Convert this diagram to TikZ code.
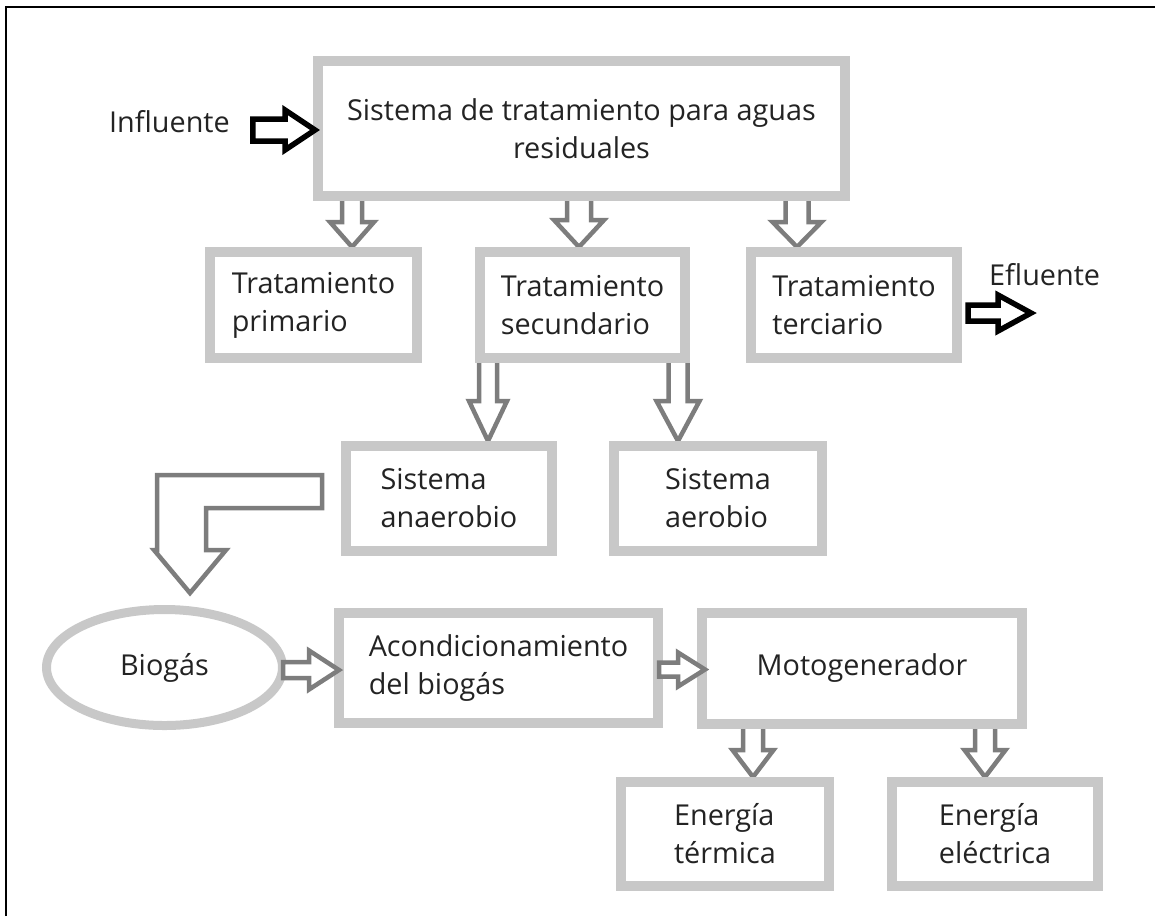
\documentclass[tikz,border=0pt]{standalone}
\usepackage{fontspec}
\setmainfont{Open Sans}
\usetikzlibrary{calc,shapes.geometric}
\pgfdeclarelayer{bg}
\pgfsetlayers{bg,main}
\definecolor{boxgray}{RGB}{200,200,200}
\definecolor{arrgray}{RGB}{125,125,125}
\definecolor{txt}{RGB}{35,35,35}
% down block arrow (drawn behind the boxes): [style]{start}{tip}{shaft half}{head half}{head length}
\newcommand{\varrow}[6][]{%
  \filldraw[garrow,#1] let \p1=#2, \p2=#3 in
    (\x2-#4pt,\y1+6pt) -- (\x2-#4pt,\y2+#6pt) -- (\x2-#5pt,\y2+#6pt) -- (\x2,\y2)
    -- (\x2+#5pt,\y2+#6pt) -- (\x2+#4pt,\y2+#6pt) -- (\x2+#4pt,\y1+6pt) -- cycle;}
% right block arrow, closed: [style]{start}{tip}{shaft half}{head half}{head length}
\newcommand{\harrow}[6][]{%
  \filldraw[garrow,#1] let \p1=#2, \p2=#3 in
    (\x1,\y2+#4pt) -- (\x2-#6pt,\y2+#4pt) -- (\x2-#6pt,\y2+#5pt) -- (\x2,\y2)
    -- (\x2-#6pt,\y2-#5pt) -- (\x2-#6pt,\y2-#4pt) -- (\x1,\y2-#4pt) -- cycle;}
\begin{document}
\begin{tikzpicture}[x=1pt,y=-1pt,
  font=\fontsize{28.8}{38}\selectfont,
  box/.style={draw=boxgray, line width=10pt, fill=white, inner sep=0pt, align=left, text=txt},
  lbl/.style={text=txt, inner sep=0pt, anchor=west},
  garrow/.style={draw=arrgray, line width=4.5pt, fill=white, line join=miter},
  barrow/.style={draw=black, line width=5.5pt, fill=white, line join=miter}]
\useasboundingbox (0,0) rectangle (1155,916);
\draw[line width=2.5pt] (6.2,916) -- (6.2,7) -- (1155,7);

% boxes
\node[box, align=center, minimum width=527pt, minimum height=135pt] (main) at (581.5,128.5)
  {Sistema de tratamiento para aguas\\residuales};
\node[box, minimum width=207pt, minimum height=106pt] (prim) at (313.5,305) {Tratamiento\\primario};
\node[box, minimum width=205pt, minimum height=106pt] (sec) at (582.5,305) {Tratamiento\\secundario};
\node[box, minimum width=206pt, minimum height=106pt] (ter) at (854,305) {Tratamiento\\terciario};
\node[box, minimum width=206pt, minimum height=105pt] (anaer) at (449,498.5) {Sistema\\anaerobio};
\node[box, minimum width=208pt, minimum height=105pt] (aer) at (718,498.5) {Sistema\\aerobio};
\node[ellipse, draw=boxgray, line width=9pt, fill=white, inner sep=0pt, text=txt,
  minimum width=236pt, minimum height=116pt] (bio) at (164.5,667.5) {Biogás};
\node[box, minimum width=319pt, minimum height=110pt] (acond) at (498.5,668) {Acondicionamiento\\del biogás};
\node[box, minimum width=320pt, minimum height=111pt] (moto) at (862,668.5) {Motogenerador};
\node[box, minimum width=208pt, minimum height=104pt] (term) at (725,834) {Energía\\térmica};
\node[box, minimum width=206pt, minimum height=104pt] (elec) at (995,834) {Energía\\eléctrica};

% labels
\node[lbl] (inf) at (109,122) {Influente};
\node[lbl] (efl) at (989,275) {Efluente};

% down arrows, behind the boxes
\begin{pgfonlayer}{bg}
\varrow{(main.south)}{($(prim.north)+(38.5,0)$)}{10}{22}{25}
\varrow{(main.south)}{($(sec.north)+(-3.5,0)$)}{12}{25}{27}
\varrow{(main.south)}{($(ter.north)+(-57,0)$)}{11.5}{24.5}{25}
\varrow{(sec.south)}{($(anaer.north)+(39,0)$)}{9}{19}{40}
\varrow{(sec.south)}{($(aer.north)+(-40,0)$)}{9.5}{21.5}{40}
\varrow{(moto.south)}{($(term.north)+(28,0)$)}{10}{20.5}{27}
\varrow{(moto.south)}{($(elec.north)+(-10,0)$)}{10}{20.5}{27}
\end{pgfonlayer}

% black arrows
\harrow[barrow]{($(inf.east)+(23,0)$)}{($(main.west)+(2,1.5)$)}{11}{20}{30}
\coordinate (eflTip) at (1031,313);
\harrow[barrow]{($(ter.east)+(6,0)$)}{(eflTip)}{8}{18}{33}

% horizontal gray arrows
\harrow{($(bio.east)+(-4,2)$)}{($(acond.west)+(5,2)$)}{8}{19.5}{30}
\harrow{($(acond.east)+(-4,1)$)}{($(moto.west)+(8,1)$)}{7}{17}{27}

% bent arrow from the anaerobic system down to the biogas
\coordinate (Lend) at ($(anaer.west)+(-19,-7)$);
\coordinate (Ltip) at ($(bio.north)+(25.5,-12)$);
\filldraw[garrow] let \p1=(Lend), \p2=(Ltip) in
  (\x1,\y1+16.5pt) -- (\x2-33pt,\y1+16.5pt) -- (\x2-33pt,\y2+43pt) -- (\x2-36pt,\y2+43pt)
  -- (\x2,\y2) -- (\x2+36pt,\y2+43pt) -- (\x2+16pt,\y2+43pt) -- (\x2+16pt,\y1-16.5pt)
  -- (\x1,\y1-16.5pt) -- cycle;
\end{tikzpicture}
\end{document}
